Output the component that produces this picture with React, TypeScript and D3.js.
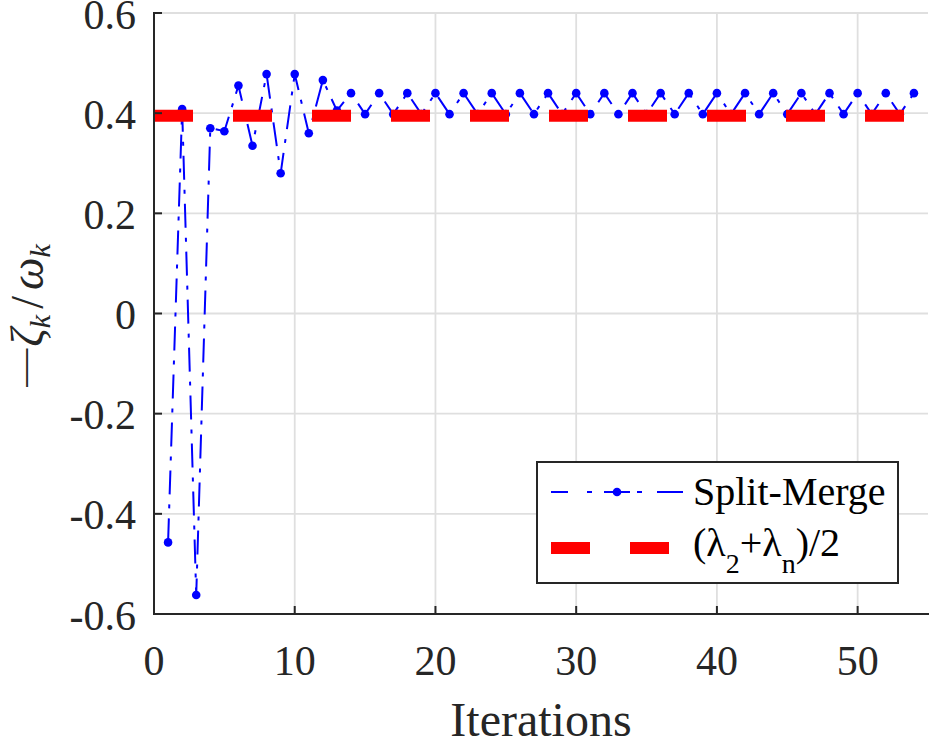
import * as d3 from 'd3';

// x runs 1..54, one value per iteration
const splitMerge = [
  -0.457, 0.408, -0.562, 0.370, 0.364, 0.455, 0.335, 0.478, 0.280, 0.478,
  0.360, 0.466, 0.405, 0.440, 0.398, 0.440, 0.398, 0.440, 0.398, 0.440,
  0.398, 0.440, 0.398, 0.440, 0.398, 0.440, 0.398, 0.440, 0.398, 0.440,
  0.398, 0.440, 0.398, 0.440, 0.398, 0.440, 0.398, 0.440, 0.398, 0.440,
  0.398, 0.440, 0.398, 0.440, 0.398, 0.440, 0.398, 0.440, 0.398, 0.440,
  0.398, 0.440, 0.398, 0.440,
];
const referenceValue = 0.395;
const referenceSpan = [0, 54];
const xTicks = [0, 10, 20, 30, 40, 50];
const yTicks = [-0.6, -0.4, -0.2, 0, 0.2, 0.4, 0.6];
const yTickLabels = ['-0.6', '-0.4', '-0.2', '0', '0.2', '0.4', '0.6'];

const WIDTH = 934;
const HEIGHT = 740;
const margin = { left: 154, right: 6, top: 13, bottom: 126 };
const FONT = "'Liberation Serif', 'Times New Roman', Times, serif";
const AXIS_COLOR = '#262626';

export default function App() {
  const x = d3.scaleLinear().domain([0, 55]).range([margin.left, WIDTH - margin.right]);
  const y = d3.scaleLinear().domain([-0.6, 0.6]).range([HEIGHT - margin.bottom, margin.top]);

  const points = splitMerge.map((v, i) => [i + 1, v] as [number, number]);
  const line = d3
    .line<[number, number]>()
    .x((d) => x(d[0]))
    .y((d) => y(d[1]));

  const x0 = x(0);
  const x1 = x(55);
  const yBottom = y(-0.6);
  const yTop = y(0.6);

  // legend geometry
  const lg = { x: 537, y: 462, w: 361, h: 121 };
  const row1 = lg.y + 30;
  const row2 = lg.y + 86;

  return (
    <svg
      width={WIDTH}
      height={HEIGHT}
      style={{ position: 'absolute', left: 0, top: 0, background: '#fff', fontFamily: FONT }}
    >
      {/* grid */}
      <g stroke="#dfdfdf" strokeWidth={1.8}>
        {xTicks.map((t) => (
          <line key={`gx${t}`} x1={x(t)} x2={x(t)} y1={yTop} y2={yBottom} />
        ))}
        {yTicks.map((t) => (
          <line key={`gy${t}`} x1={x0} x2={x1} y1={y(t)} y2={y(t)} />
        ))}
      </g>

      {/* split-merge series */}
      <path
        d={line(points) ?? ''}
        fill="none"
        stroke="#0000ff"
        strokeWidth={2}
        strokeDasharray="24 10 4 10"
      />
      <g fill="#0000ff">
        {points.map((p) => (
          <circle key={p[0]} cx={x(p[0])} cy={y(p[1])} r={4.3} />
        ))}
      </g>

      {/* reference line */}
      <line
        x1={x(referenceSpan[0])}
        x2={x(referenceSpan[1])}
        y1={y(referenceValue)}
        y2={y(referenceValue)}
        stroke="#ff0000"
        strokeWidth={12}
        strokeDasharray="39 40"
      />

      {/* axes */}
      <g stroke={AXIS_COLOR} strokeWidth={2} fill="none">
        <path d={`M${x0},${yTop}V${yBottom}H${x1}`} strokeLinecap="square" />
        {xTicks.map((t) => (
          <line key={`tx${t}`} x1={x(t)} x2={x(t)} y1={yBottom} y2={yBottom - 8} />
        ))}
        {yTicks.map((t) => (
          <line key={`ty${t}`} x1={x0} x2={x0 + 8} y1={y(t)} y2={y(t)} />
        ))}
      </g>
      <g fill={AXIS_COLOR} style={{ fontSize: 42, fontFamily: FONT }}>
        {xTicks.map((t) => (
          <text key={`lx${t}`} x={x(t)} y={yBottom + 61} textAnchor="middle">
            {t}
          </text>
        ))}
        {yTicks.map((t, i) => (
          <text key={`ly${t}`} x={x0 - 18} y={y(t)} dy="0.37em" textAnchor="end">
            {yTickLabels[i]}
          </text>
        ))}
      </g>

      {/* axis labels */}
      <text
        x={(x0 + x1) / 2}
        y={736}
        textAnchor="middle"
        fill={AXIS_COLOR}
        style={{ fontSize: 48, fontFamily: FONT }}
      >
        Iterations
      </text>
      <text
        transform={`translate(43, ${(yTop + yBottom) / 2 + 2}) rotate(-90)`}
        textAnchor="middle"
        fill={AXIS_COLOR}
        style={{ fontSize: 46, fontFamily: FONT }}
      >
        <tspan fontSize={38} dy={-7}>—</tspan>
        <tspan fontStyle="italic" dx={2} dy={7}>ζ</tspan>
        <tspan fontStyle="italic" fontSize={30} dy={7}>k</tspan>
        <tspan dy={-7} dx={6}>/</tspan>
        <tspan fontStyle="italic" dx={6}>ω</tspan>
        <tspan fontStyle="italic" fontSize={30} dy={7}>k</tspan>
      </text>

      {/* legend */}
      <rect x={lg.x} y={lg.y} width={lg.w} height={lg.h} fill="#fff" stroke={AXIS_COLOR} strokeWidth={2} />
      <line
        x1={lg.x + 14}
        x2={lg.x + 146}
        y1={row1}
        y2={row1}
        stroke="#0000ff"
        strokeWidth={2}
        strokeDasharray="17 19 5 12 26 7 5 15 26"
      />
      <circle cx={lg.x + 80} cy={row1} r={4.3} fill="#0000ff" />
      <text x={lg.x + 156} y={row1 + 13} fill="#000" style={{ fontSize: 40, fontFamily: FONT }}>
        Split-Merge
      </text>
      <line
        x1={lg.x + 14}
        x2={lg.x + 132}
        y1={row2}
        y2={row2}
        stroke="#ff0000"
        strokeWidth={12}
        strokeDasharray="39 40"
      />
      <text x={lg.x + 156} y={row2 + 8} fill="#000" style={{ fontSize: 40, fontFamily: FONT }}>
        <tspan>(λ</tspan>
        <tspan fontSize={28} dy={17}>2</tspan>
        <tspan dy={-17}>+λ</tspan>
        <tspan fontSize={28} dy={17}>n</tspan>
        <tspan dy={-17}>)/2</tspan>
      </text>
    </svg>
  );
}
